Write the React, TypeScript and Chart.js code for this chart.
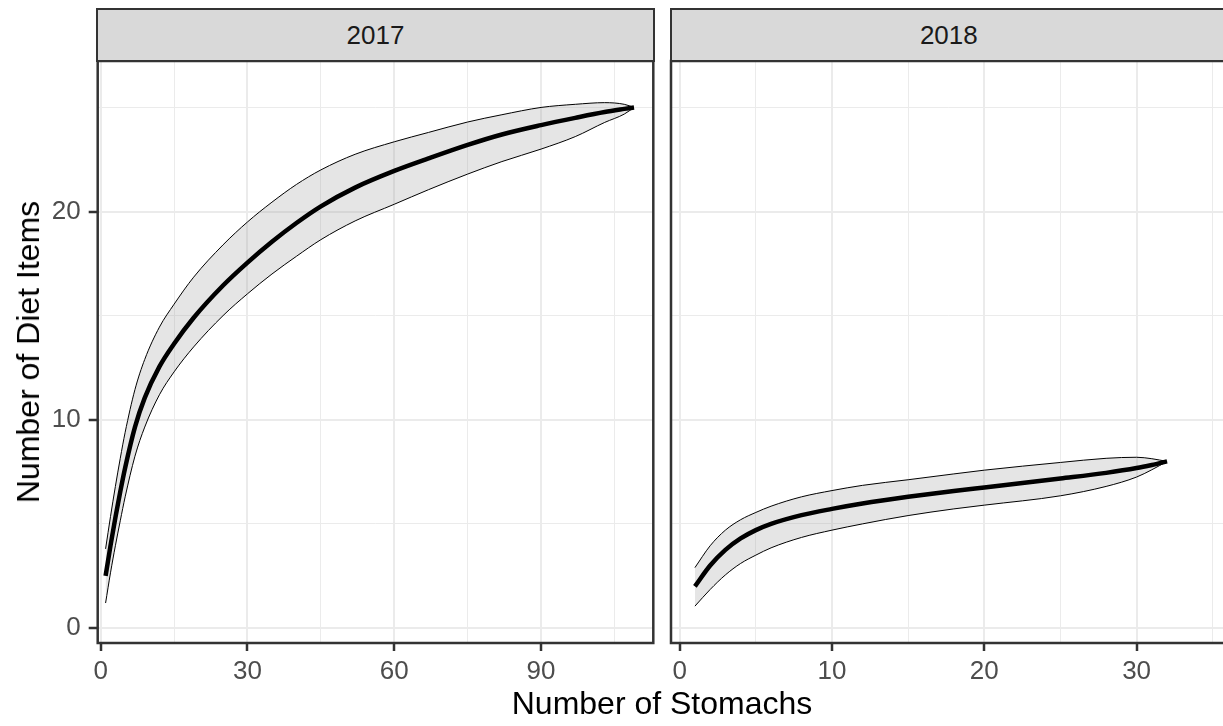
import React, { useEffect, useRef } from 'react';
import { Chart, registerables } from 'chart.js';

Chart.register(...registerables);

const FONT = "'Liberation Sans', Arial, sans-serif";

// ---- data ----
const facetLabels = ['2017', '2018'];
const xAxisTitle = 'Number of Stomachs';
const yAxisTitle = 'Number of Diet Items';

const stomachs2017 = [1, 2, 3, 4, 5, 7, 9, 12, 15, 19, 25, 30, 35, 40, 45, 52, 60, 67, 75, 82, 90, 97, 103, 107, 109];
const mean2017 = [2.5, 3.95, 5.3, 6.55, 7.7, 9.65, 11.05, 12.55, 13.65, 14.9, 16.45, 17.55, 18.55, 19.45, 20.25, 21.15, 21.95, 22.55, 23.2, 23.7, 24.15, 24.5, 24.78, 24.93, 25.0];
const upper2017 = [3.8, 5.35, 6.8, 8.15, 9.4, 11.45, 12.9, 14.45, 15.55, 16.85, 18.4, 19.5, 20.45, 21.3, 22.0, 22.75, 23.35, 23.8, 24.3, 24.65, 25.0, 25.15, 25.23, 25.15, 25.0];
const lower2017 = [1.2, 2.65, 3.95, 5.15, 6.3, 8.25, 9.65, 11.2, 12.3, 13.5, 15.0, 16.05, 17.0, 17.85, 18.65, 19.55, 20.35, 21.05, 21.8, 22.4, 23.0, 23.6, 24.28, 24.68, 25.0];

const stomachs2018 = [1, 2, 3, 4, 5, 6, 8, 10, 12, 15, 18, 20, 25, 28, 30, 31, 32];
const mean2018 = [2.0, 3.0, 3.75, 4.3, 4.7, 5.0, 5.42, 5.72, 5.98, 6.3, 6.58, 6.75, 7.18, 7.45, 7.68, 7.83, 8.0];
const upper2018 = [2.9, 3.95, 4.7, 5.2, 5.55, 5.85, 6.3, 6.6, 6.85, 7.12, 7.4, 7.58, 7.95, 8.15, 8.2, 8.13, 8.0];
const lower2018 = [1.05, 1.85, 2.55, 3.1, 3.5, 3.85, 4.35, 4.7, 5.0, 5.4, 5.72, 5.9, 6.35, 6.8, 7.25, 7.6, 8.0];

const yTicksMajor = [0, 10, 20];
const yTicksMinor = [5, 15, 25];
const xTicksMajor2017 = [0, 30, 60, 90];
const xTicksMinor2017 = [15, 45, 75, 105];
const xTicksMajor2018 = [0, 10, 20, 30];
const xTicksMinor2018 = [5, 15, 25, 35];

// ---- layout ----
const Y_MIN = -0.72;
const Y_MAX = 27.23;
const PANEL_TOP = 61;
const PANEL_BOTTOM = 643;
const CANVAS_H = 726;

type PanelCfg = {
  xs: number[];
  mean: number[];
  upper: number[];
  lower: number[];
  xMin: number;
  xMax: number;
  xMajor: number[];
  xMinor: number[];
  showY: boolean;
  yWidth: number;
  padRight: number;
};

const borderPlugin = {
  id: 'panelBorder',
  afterDraw(chart: any) {
    const { ctx, chartArea: a } = chart;
    ctx.save();
    ctx.strokeStyle = '#333333';
    ctx.lineWidth = 2.5;
    ctx.strokeRect(a.left, a.top, a.right - a.left, a.bottom - a.top);
    ctx.restore();
  },
};

function makePanel(canvas: HTMLCanvasElement, cfg: PanelCfg) {
  const pts = (ys: number[]) => cfg.xs.map((x, i) => ({ x, y: ys[i] }));
  const xAll = [...cfg.xMajor, ...cfg.xMinor].sort((a, b) => a - b);
  const yAll = [...yTicksMajor, ...yTicksMinor].sort((a, b) => a - b);
  const gridW = (majors: number[]) => (ctx: any) =>
    ctx.tick && majors.includes(ctx.tick.value) ? 2 : 1;
  const tickC = (majors: number[]) => (ctx: any) =>
    ctx.tick && majors.includes(ctx.tick.value) ? '#333333' : 'rgba(0,0,0,0)';

  return new Chart(canvas, {
    type: 'line',
    data: {
      datasets: [
        {
          data: pts(cfg.mean),
          borderColor: '#000000',
          borderWidth: 4.5,
          pointRadius: 0,
          fill: false,
          cubicInterpolationMode: 'monotone',
          borderJoinStyle: 'round',
          order: 0,
        },
        {
          data: pts(cfg.lower),
          borderColor: '#000000',
          borderWidth: 1,
          pointRadius: 0,
          fill: false,
          cubicInterpolationMode: 'monotone',
          order: 1,
        },
        {
          data: pts(cfg.upper),
          borderColor: '#000000',
          borderWidth: 1,
          pointRadius: 0,
          fill: '-1',
          backgroundColor: 'rgba(160,160,160,0.28)',
          cubicInterpolationMode: 'monotone',
          order: 2,
        },
      ],
    },
    options: {
      animation: false,
      responsive: false,
      events: [],
      layout: { autoPadding: false, padding: { top: PANEL_TOP, right: cfg.padRight, left: 0, bottom: 0 } },
      plugins: { legend: { display: false }, tooltip: { enabled: false }, title: { display: false } },
      scales: {
        x: {
          type: 'linear',
          min: cfg.xMin,
          max: cfg.xMax,
          afterBuildTicks: (s: any) => {
            s.ticks = xAll.map((v) => ({ value: v }));
          },
          afterFit: (s: any) => {
            s.height = CANVAS_H - PANEL_BOTTOM;
          },
          border: { display: false },
          grid: {
            color: '#EBEBEB',
            lineWidth: gridW(cfg.xMajor),
            drawTicks: true,
            tickLength: 8,
            tickWidth: 2.5,
            tickColor: tickC(cfg.xMajor),
          },
          ticks: {
            autoSkip: false,
            maxRotation: 0,
            padding: 5,
            color: '#4D4D4D',
            font: { family: FONT, size: 26 },
            callback: (v: any) => (cfg.xMajor.includes(Number(v)) ? String(v) : ''),
          },
        },
        y: {
          type: 'linear',
          min: Y_MIN,
          max: Y_MAX,
          afterBuildTicks: (s: any) => {
            s.ticks = yAll.map((v) => ({ value: v }));
          },
          afterFit: (s: any) => {
            s.width = cfg.yWidth;
          },
          border: { display: false },
          grid: {
            color: '#EBEBEB',
            lineWidth: gridW(yTicksMajor),
            drawTicks: cfg.showY,
            tickLength: 9,
            tickWidth: 2.5,
            tickColor: tickC(yTicksMajor),
          },
          ticks: {
            display: cfg.showY,
            autoSkip: false,
            padding: 8,
            color: '#4D4D4D',
            font: { family: FONT, size: 26 },
            callback: (v: any) => (yTicksMajor.includes(Number(v)) ? String(v) : ''),
          },
        },
      },
    } as any,
    plugins: [borderPlugin],
  } as any);
}

const stripStyle = (left: number, right: number): React.CSSProperties => ({
  position: 'absolute',
  left: left - 1.25,
  top: 9 - 1.25,
  width: right - left + 2.5,
  height: PANEL_TOP - 9 + 2.5,
  boxSizing: 'border-box',
  border: '2.5px solid #333333',
  background: '#D9D9D9',
  color: '#1A1A1A',
  fontFamily: FONT,
  fontSize: 26,
  display: 'flex',
  alignItems: 'center',
  justifyContent: 'center',
  lineHeight: 1,
});

export default function App() {
  const c1 = useRef<HTMLCanvasElement>(null);
  const c2 = useRef<HTMLCanvasElement>(null);

  useEffect(() => {
    const a = makePanel(c1.current!, {
      xs: stomachs2017,
      mean: mean2017,
      upper: upper2017,
      lower: lower2017,
      xMin: -0.613,
      xMax: 112.94,
      xMajor: xTicksMajor2017,
      xMinor: xTicksMinor2017,
      showY: true,
      yWidth: 97.7,
      padRight: 660 - 653.3,
    });
    const b = makePanel(c2.current!, {
      xs: stomachs2018,
      mean: mean2018,
      upper: upper2018,
      lower: lower2018,
      xMin: -0.571,
      xMax: 35.91,
      xMajor: xTicksMajor2018,
      xMinor: xTicksMinor2018,
      showY: false,
      yWidth: 11,
      padRight: 580 - (1226.6 - 660),
    });
    return () => {
      a.destroy();
      b.destroy();
    };
  }, []);

  return (
    <div
      style={{
        position: 'fixed',
        left: 0,
        top: 0,
        width: 1223,
        height: 726,
        background: '#ffffff',
        overflow: 'hidden',
        fontFamily: FONT,
      }}
    >
      <canvas ref={c1} width={660} height={CANVAS_H} style={{ position: 'absolute', left: 0, top: 0, width: 660, height: CANVAS_H }} />
      <canvas ref={c2} width={580} height={CANVAS_H} style={{ position: 'absolute', left: 660, top: 0, width: 580, height: CANVAS_H }} />
      <div style={stripStyle(97.7, 653.3)}>{facetLabels[0]}</div>
      <div style={stripStyle(671, 1226.6)}>{facetLabels[1]}</div>
      <div
        style={{
          position: 'absolute',
          left: 662,
          top: 687.4,
          transform: 'translateX(-50%)',
          whiteSpace: 'nowrap',
          fontSize: 32,
          lineHeight: 1,
          color: '#000000',
          fontFamily: FONT,
        }}
      >
        {xAxisTitle}
      </div>
      <div
        style={{
          position: 'absolute',
          left: 28,
          top: 352,
          transform: 'translate(-50%, -50%) rotate(-90deg)',
          whiteSpace: 'nowrap',
          fontSize: 32,
          lineHeight: 1,
          color: '#000000',
          fontFamily: FONT,
        }}
      >
        {yAxisTitle}
      </div>
    </div>
  );
}
